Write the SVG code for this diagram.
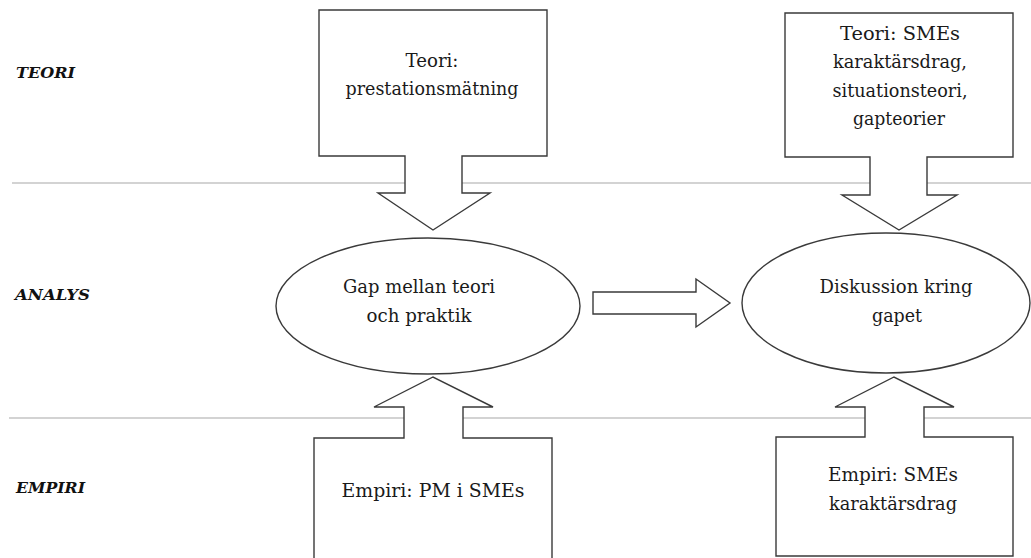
<svg xmlns="http://www.w3.org/2000/svg" width="1031" height="558" viewBox="0 0 1031 558">
<style>
.sep{stroke:#c4c4c4;stroke-width:1.5;fill:none}
.shape{fill:#ffffff;stroke:#3a3a3a;stroke-width:1.4;stroke-linejoin:miter}
.t{font-family:'DejaVu Serif','Liberation Serif',serif;font-size:18px;fill:#1a1a1a;text-anchor:middle}
.lbl{font-family:'DejaVu Serif','Liberation Serif',serif;font-size:14px;font-weight:bold;font-style:italic;fill:#111}
</style>
<rect width="1031" height="558" fill="#ffffff"/>
<g id="separators">
<line class="sep" x1="12" y1="183" x2="1031" y2="183"/>
<line class="sep" x1="9" y1="418" x2="1031" y2="418"/>
</g>
<g id="labels">
<text class="lbl" x="16" y="78" textLength="59" lengthAdjust="spacingAndGlyphs">TEORI</text>
<text class="lbl" x="15" y="300" textLength="75" lengthAdjust="spacingAndGlyphs">ANALYS</text>
<text class="lbl" x="16" y="493" textLength="69" lengthAdjust="spacingAndGlyphs">EMPIRI</text>
</g>
<g id="connectors">
<path class="shape" d="M593,292 L696,292 L696,279 L730,303 L696,327 L696,314 L593,314 Z"/>
</g>
<g id="teori-prestation">
<path class="shape" d="M319,10 L547,10 L547,156 L462,156 L462,193 L490,193 L433,230 L378,193 L405,193 L405,156 L319,156 Z"/>
<text class="t" x="432" y="67" textLength="53" lengthAdjust="spacingAndGlyphs">Teori:</text>
<text class="t" x="432" y="95" textLength="173" lengthAdjust="spacingAndGlyphs">prestationsmätning</text>
</g>
<g id="teori-smes">
<path class="shape" d="M785,13 L1013,13 L1013,157 L927,157 L927,195 L957,195 L899,230 L842,195 L870,195 L870,157 L785,157 Z"/>
<text class="t" x="900" y="40" textLength="120" lengthAdjust="spacingAndGlyphs">Teori: SMEs</text>
<text class="t" x="900" y="68" textLength="134" lengthAdjust="spacingAndGlyphs">karaktärsdrag,</text>
<text class="t" x="900" y="97" textLength="135" lengthAdjust="spacingAndGlyphs">situationsteori,</text>
<text class="t" x="899" y="125" textLength="92" lengthAdjust="spacingAndGlyphs">gapteorier</text>
</g>
<g id="gap">
<ellipse class="shape" cx="428" cy="306" rx="152" ry="68"/>
<text class="t" x="419" y="293" textLength="152" lengthAdjust="spacingAndGlyphs">Gap mellan teori</text>
<text class="t" x="419" y="322" textLength="105" lengthAdjust="spacingAndGlyphs">och praktik</text>
</g>
<g id="diskussion">
<ellipse class="shape" cx="886" cy="303" rx="144" ry="70"/>
<text class="t" x="896" y="293" textLength="153" lengthAdjust="spacingAndGlyphs">Diskussion kring</text>
<text class="t" x="897" y="322" textLength="50" lengthAdjust="spacingAndGlyphs">gapet</text>
</g>
<g id="empiri-pm">
<path class="shape" d="M314,570 L314,438 L404,438 L404,407 L374,407 L433,377 L493,407 L463,407 L463,438 L552,438 L552,570"/>
<text class="t" x="433" y="497" textLength="183" lengthAdjust="spacingAndGlyphs">Empiri: PM i SMEs</text>
</g>
<g id="empiri-smes">
<path class="shape" d="M776,556 L776,437 L865,437 L865,407 L835,407 L894,377 L954,407 L924,407 L924,437 L1013,437 L1013,556 Z"/>
<text class="t" x="893" y="481" textLength="130" lengthAdjust="spacingAndGlyphs">Empiri: SMEs</text>
<text class="t" x="893" y="510" textLength="128" lengthAdjust="spacingAndGlyphs">karaktärsdrag</text>
</g>
</svg>
